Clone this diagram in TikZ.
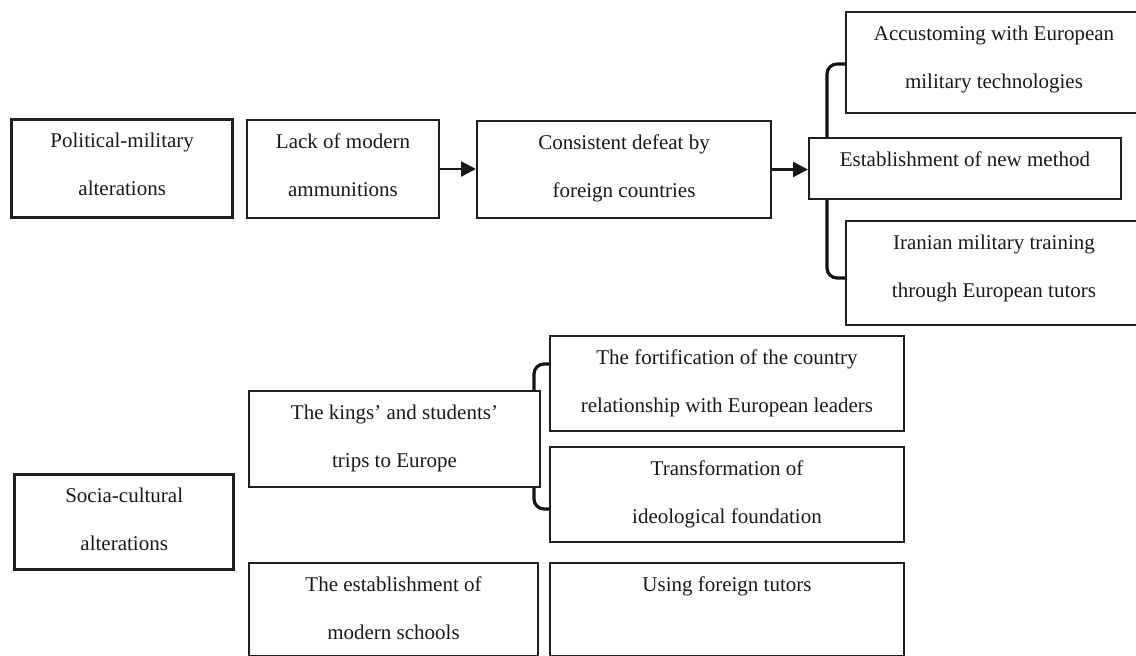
\documentclass[tikz,border=0pt]{standalone}
\usepackage{fontspec}
\setmainfont{Liberation Serif}
\usetikzlibrary{arrows.meta,calc}
\tikzset{
  box/.style={draw=black!88, line width=2pt, anchor=north west, inner sep=0pt},
  mainbox/.style={box, line width=3.4pt},
  txt/.style={anchor=north, inner sep=0pt, align=center, text=black!90,
    font=\fontsize{21pt}{48.5pt}\selectfont},
  arr/.style={line width=2.4pt, draw=black!90,
    -{Triangle[length=15pt,width=15pt]}},
  brace/.style={line width=3.2pt, draw=black!92, rounded corners=10pt},
}
\newcommand{\boxat}[6]{% name, style, x1, y1, x2, y2
  \node[#2, minimum width={(#5-#3)*1pt}, minimum height={(#6-#4)*1pt}] (#1) at (#3,#4) {};}
\begin{document}
\begin{tikzpicture}[x=1pt,y=-1pt]
\useasboundingbox (0,0) rectangle (1136,656);
\clip (0,0) rectangle (1136,656);

% political-military row
\boxat{pm}{mainbox}{10}{118}{231}{216}
\boxat{lack}{box}{246}{119}{438}{217}
\boxat{cons}{box}{476}{120}{770}{217}
\boxat{est}{box}{808}{137}{1120}{198}
\boxat{acc}{box}{845}{11}{1141}{112}
\boxat{iran}{box}{845}{220}{1141}{324}

\node[txt] (pm-t)   at ([yshift=-14.4pt]pm.north)   {Political-military\\alterations};
\node[txt] (lack-t) at ([yshift=-14.4pt]lack.north) {Lack of modern\\ammunitions};
\node[txt] (cons-t) at ([yshift=-14.4pt]cons.north) {Consistent defeat by\\foreign countries};
\node[txt] (est-t)  at ([yshift=-14.4pt]est.north)  {Establishment of new method};
\node[txt] (acc-t)  at ([yshift=-14.4pt]acc.north)  {Accustoming with European\\military technologies};
\node[txt] (iran-t) at ([yshift=-14.4pt]iran.north) {Iranian military training\\through European tutors};

\draw[arr] (lack.east) -- (lack.east -| cons.west);
\draw[arr] (cons.east) -- (cons.east -| est.west);

\coordinate (bt1) at ([xshift=19pt]est.north west);
\coordinate (bt2) at ([xshift=19pt]est.south west);
\draw[brace] (bt1) |- ([yshift=-1.5pt]acc.west);
\draw[brace] (bt2) |- ([yshift=-5pt]iran.west);

% socio-cultural rows
\boxat{socia}{mainbox}{13}{473}{232}{568}
\boxat{kings}{box}{248}{390}{539}{486}
\boxat{fort}{box}{549}{335}{903}{430}
\boxat{trans}{box}{549}{446}{903}{541}
\boxat{schools}{box}{248}{562}{537}{655}
\boxat{tutors}{box}{549}{562}{903}{655}

\node[txt] (socia-t)   at ([yshift=-14.4pt]socia.north)   {Socia-cultural\\alterations};
\node[txt] (kings-t)   at ([yshift=-14.4pt]kings.north)   {The kings’ and students’\\trips to Europe};
\node[txt] (fort-t)    at ([yshift=-14.4pt]fort.north)    {The fortification of the country\\relationship with European leaders};
\node[txt] (trans-t)   at ([yshift=-14.4pt]trans.north)   {Transformation of\\ideological foundation};
\node[txt] (schools-t) at ([yshift=-14.4pt]schools.north) {The establishment of\\modern schools};
\node[txt] (tutors-t)  at ([yshift=-14.4pt]tutors.north)  {Using foreign tutors};

\coordinate (bk1) at ([xshift=-7pt]kings.north east);
\coordinate (bk2) at ([xshift=-7pt]kings.south east);
\draw[brace] (bk1) |- ([yshift=19.5pt]fort.west);
\draw[brace] (bk2) |- ([yshift=-14.5pt]trans.west);
\end{tikzpicture}
\end{document}
